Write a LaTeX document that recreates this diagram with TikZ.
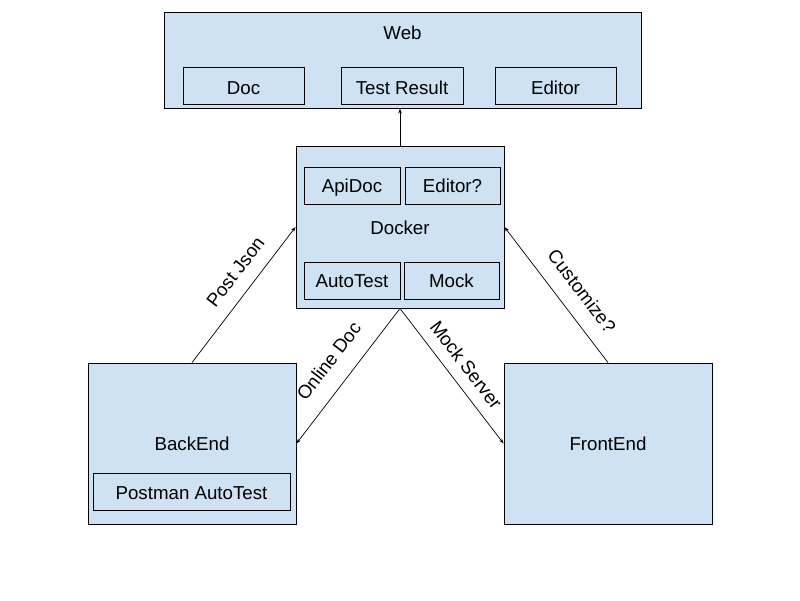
\documentclass[tikz,border=0pt]{standalone}
\usepackage{fontspec}
\setmainfont{Liberation Sans}
\usetikzlibrary{arrows.meta}
\definecolor{boxfill}{HTML}{CFE2F3}
\tikzset{
  box/.style={draw=black, fill=boxfill, line width=0.9pt, inner sep=0pt, rectangle},
  txt/.style={inner sep=0pt, text height=13.4pt, text depth=0pt, font=\fontsize{18.7}{22}\selectfont},
  lowtxt/.style={text height=17.4pt},
  conn/.style={draw=black, line width=0.7pt, -{Stealth[length=5pt,width=3.5pt]}},
  elabel/.style={inner sep=0pt, sloped, font=\fontsize{18.7}{22}\selectfont}
}
\begin{document}
\begin{tikzpicture}[x=1pt,y=-1pt]
\useasboundingbox (0,0) rectangle (800,600);
% Web
\node[box, minimum width=477pt, minimum height=96pt] (web) at (402.5,60) {};
\node[txt] (webl) at (402.5,32.7) {Web};
\node[box, txt, lowtxt, minimum width=121pt, minimum height=37pt] (doc) at (243.5,85.5) {Doc};
\node[box, txt, lowtxt, minimum width=122pt, minimum height=37pt] (testres) at (402,85.5) {Test Result};
\node[box, txt, lowtxt, minimum width=121pt, minimum height=37pt] (editor) at (555.5,85.5) {Editor};
% Docker
\node[box, minimum width=208pt, minimum height=162pt] (docker) at (400,227) {};
\node[txt] (dockerl) at (400,228) {Docker};
\node[box, txt, minimum width=96pt, minimum height=37pt] (apidoc) at (352,185.5) {ApiDoc};
\node[box, txt, minimum width=95pt, minimum height=37pt] (editorq) at (452.5,185.5) {Editor?};
\node[box, txt, minimum width=96pt, minimum height=37pt] (autotest) at (352,280.5) {AutoTest};
\node[box, txt, minimum width=95pt, minimum height=37pt] (mock) at (451.5,280.5) {Mock};
% BackEnd
\node[box, minimum width=208pt, minimum height=161pt] (backend) at (192,443.5) {};
\node[txt] (backendl) at (192,444) {BackEnd};
\node[box, txt, text height=15.4pt, minimum width=197pt, minimum height=37pt] (postman) at (191.5,491.5) {Postman AutoTest};
% FrontEnd
\node[box, txt, minimum width=208pt, minimum height=161pt] (frontend) at (608,443.5) {FrontEnd};
% connectors
\draw[conn] (docker.north) -- (docker.north |- web.south);
\draw[conn] (backend.north) -- node[elabel, pos=0.576, above=13.5pt] {Post Json} (docker.west);
\draw[conn] (frontend.north) -- node[elabel, pos=0.426, above=15.5pt] {Customize?} (docker.east);
\draw[conn] (docker.south) -- node[elabel, pos=0.5, above=17.5pt] {Online Doc} (backend.east);
\draw[conn] (docker.south) -- node[elabel, pos=0.5, above=11pt] {Mock Server} (frontend.west);
\end{tikzpicture}
\end{document}
